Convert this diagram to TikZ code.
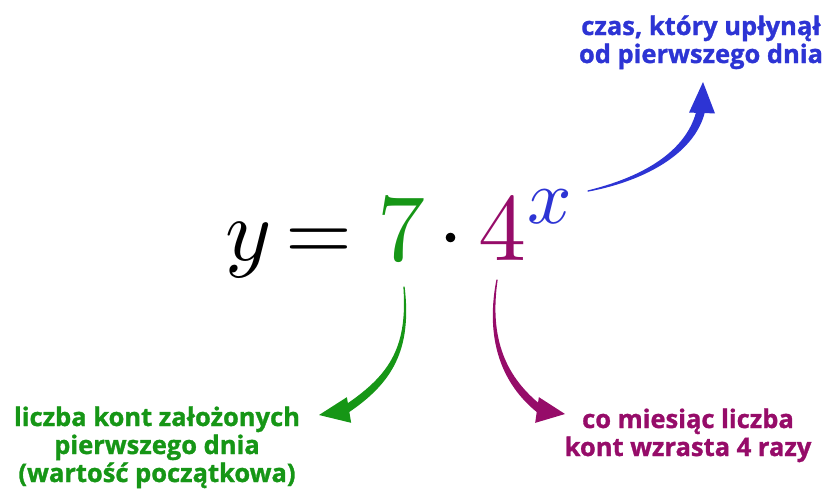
\documentclass[tikz,border=0pt]{standalone}
\usepackage{graphicx}
\usepackage{fontspec}
\newfontfamily\labelfont{Open Sans}[BoldFont={Open Sans Bold},BoldFeatures={FakeBold=1.2}]
\usetikzlibrary{calc}
\definecolor{cgreen}{RGB}{22,150,22}
\definecolor{cpurple}{RGB}{150,12,105}
\definecolor{cblue}{RGB}{45,52,212}
\newcommand{\taparrow}[4]{% #1 colour, #2 prefix, #3 end half-width, #4 mid half-width
  \filldraw[#1,line width=1.3pt,line join=round]
    (#2s) .. controls ($(#2c1)!#4!90:(#2s)$) and ($(#2c2)!#3!-90:(#2l)$) .. ($(#2l)!#3!90:(#2c2)$)
    -- ($(#2l)!#3!-90:(#2c2)$) .. controls ($(#2c2)!#3!90:(#2l)$) and ($(#2c1)!#4!-90:(#2s)$) .. (#2s) -- cycle;
  \fill[#1] (#2t) -- ($(#2e)!13pt!90:(#2t)$) -- ($(#2e)!13pt!-90:(#2t)$) -- cycle;
}
\begin{document}
\begin{tikzpicture}[x=1pt,y=-1pt,
  glyph/.style={inner sep=0pt,anchor=base},
  lbl/.style={inner sep=0pt,anchor=base,align=center,
    font=\labelfont\bfseries\fontsize{25.5}{28}\selectfont}]
\useasboundingbox (0,0) rectangle (832,488);
% equation
\node[glyph] (yy) at (249,260) {\scalebox{8.8}{$y$}};
\node[glyph] (eq) at (319,260) {\scalebox{8.6}{$=$}};
\node[glyph,text=cgreen] (seven) at (401,260) {\scalebox{9.6}{$7$}};
\node[glyph] (dot) at (451,260) {\scalebox{9}{$\cdot$}};
\node[glyph,text=cpurple] (four) at (502,260) {\scalebox{9.6}{$4$}};
\node[glyph,text=cblue] (ex) at (550,223) {\scalebox{7.8}{$x$}};
% labels
\node[lbl,text=cblue] (lblue) at (701,63) {czas, który upłynął\\od pierwszego dnia};
\node[lbl,text=cgreen] (lgreen) at (157,482) {liczba kont założonych\\pierwszego dnia\\(wartość początkowa)};
\node[lbl,text=cpurple] (lpurple) at (688,456) {co miesiąc liczba\\kont wzrasta 4 razy};
% blue arrow
\coordinate (bs) at (588,191);
\coordinate (bc1) at (648,178);
\coordinate (bc2) at (692,150);
\coordinate (bl) at (701,110);
\coordinate (be) at (702,113);
\coordinate (bt) at (703,82);
\taparrow{cblue}{b}{3.6pt}{1.6pt}
% green arrow
\coordinate (gs) at (404,287);
\coordinate (gc1) at (410,350);
\coordinate (gc2) at (390,380);
\coordinate (gl) at (345,410);
\coordinate (ge) at (349,410);
\coordinate (gt) at (319,415);
\taparrow{cgreen}{g}{3.4pt}{1.4pt}
% purple arrow
\coordinate (ps) at (497,280);
\coordinate (pc1) at (486,345);
\coordinate (pc2) at (508,385);
\coordinate (pl) at (542,411);
\coordinate (pe) at (537,410);
\coordinate (pt) at (565,414);
\taparrow{cpurple}{p}{3.4pt}{1.4pt}
\end{tikzpicture}
\end{document}
